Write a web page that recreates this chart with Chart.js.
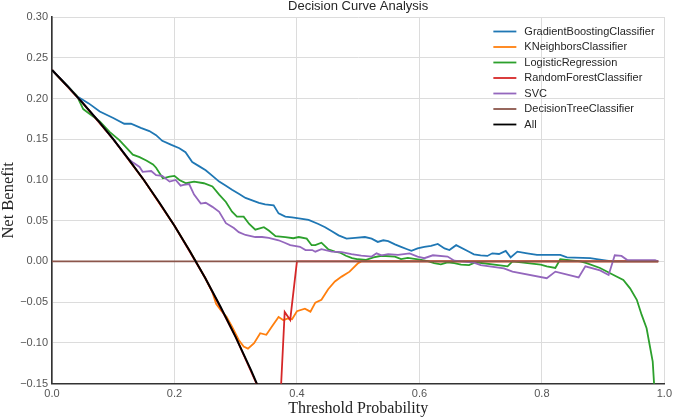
<!DOCTYPE html>
<html lang="en">
<head>
<meta charset="UTF-8">
<title>Decision Curve Analysis</title>
<style>
  body { margin: 0; padding: 0; background: #fff; }
  canvas { display: block; }
</style>
</head>
<body>
<canvas id="dca" width="676" height="418"></canvas>

<script src="https://cdn.jsdelivr.net/npm/chart.js"></script>
<script>
// model names, in legend order
const models = ['GradientBoostingClassifier', 'KNeighborsClassifier', 'LogisticRegression',
                'RandomForestClassifier', 'SVC', 'DecisionTreeClassifier', 'All'];
const colors = ['#1f77b4', '#ff7f0e', '#2ca02c', '#d62728', '#9467bd', '#8c564b', '#000000'];

// threshold / net benefit pairs
const gbT = [0, 0.025, 0.04, 0.06, 0.078, 0.1, 0.118, 0.129, 0.145, 0.159, 0.17, 0.18, 0.195, 0.208, 0.218,
  0.229, 0.24, 0.251, 0.262, 0.273, 0.284, 0.294, 0.305, 0.316, 0.327, 0.338, 0.348, 0.362, 0.37, 0.381,
  0.392, 0.403, 0.419, 0.435, 0.446, 0.457, 0.468, 0.481, 0.495, 0.511, 0.522, 0.532, 0.541, 0.549, 0.56,
  0.57, 0.58, 0.587, 0.597, 0.608, 0.619, 0.63, 0.641, 0.649, 0.66, 0.681, 0.689, 0.70, 0.711, 0.719,
  0.73, 0.741, 0.749, 0.76, 0.776, 0.792, 0.83, 0.841, 0.879, 0.892, 0.906, 0.915, 0.99];
const gbNB = [0.235, 0.2154, 0.203, 0.194, 0.184, 0.176, 0.169, 0.169, 0.164, 0.160, 0.155, 0.148, 0.143, 0.139, 0.134,
  0.122, 0.117, 0.112, 0.105, 0.098, 0.093, 0.088, 0.083, 0.078, 0.075, 0.072, 0.070, 0.069, 0.059, 0.055,
  0.054, 0.053, 0.051, 0.046, 0.042, 0.037, 0.032, 0.028, 0.029, 0.030, 0.028, 0.024, 0.026, 0.025, 0.021,
  0.018, 0.015, 0.013, 0.016, 0.018, 0.019, 0.0215, 0.016, 0.014, 0.020, 0.012, 0.0088, 0.0075, 0.0068, 0.010,
  0.0092, 0.0129, 0.005, 0.012, 0.010, 0.008, 0.008, 0.005, 0.004, 0.0027, 0.001, 0, 0];

const knT = [0, 0.05, 0.1, 0.15, 0.2, 0.225, 0.25, 0.262, 0.268, 0.276, 0.285, 0.294, 0.305, 0.313, 0.32,
  0.33, 0.34, 0.35, 0.36, 0.37, 0.378, 0.385, 0.392, 0.40, 0.413, 0.422, 0.43, 0.44, 0.451, 0.462,
  0.473, 0.486, 0.50, 0.505, 0.99];
const knNB = [0.235, 0.1947, 0.150, 0.100, 0.0438, 0.0129, -0.020, -0.038, -0.052, -0.060, -0.068, -0.080, -0.0963, -0.1045, -0.107,
  -0.1003, -0.088, -0.090, -0.079, -0.068, -0.072, -0.070, -0.071, -0.061, -0.058, -0.0616, -0.0505, -0.047, -0.034, -0.0245,
  -0.0186, -0.0125, -0.002, 0, 0];

const lrT = [0, 0.025, 0.04, 0.051, 0.065, 0.078, 0.094, 0.11, 0.121, 0.132, 0.143, 0.154, 0.165, 0.17, 0.181,
  0.192, 0.2, 0.208, 0.219, 0.232, 0.248, 0.262, 0.273, 0.284, 0.294, 0.302, 0.313, 0.322, 0.332, 0.346,
  0.354, 0.365, 0.381, 0.394, 0.403, 0.416, 0.424, 0.43, 0.44, 0.451, 0.462, 0.47, 0.48, 0.49, 0.50,
  0.513, 0.525, 0.538, 0.56, 0.57, 0.581, 0.603, 0.615, 0.624, 0.635, 0.646, 0.657, 0.668, 0.681, 0.692,
  0.744, 0.752, 0.798, 0.808, 0.822, 0.83, 0.863, 0.873, 0.895, 0.917, 0.933, 0.944, 0.955, 0.963, 0.971,
  0.976, 0.981, 0.983, 0.986];
const lrNB = [0.235, 0.2154, 0.204, 0.187, 0.179, 0.172, 0.159, 0.149, 0.140, 0.131, 0.128, 0.124, 0.119, 0.115, 0.102,
  0.104, 0.105, 0.100, 0.096, 0.098, 0.096, 0.092, 0.082, 0.073, 0.061, 0.055, 0.055, 0.046, 0.039, 0.042,
  0.038, 0.031, 0.030, 0.0285, 0.030, 0.028, 0.020, 0.020, 0.023, 0.015, 0.012, 0.011, 0.007, 0.004, 0.0027,
  0.002, 0.005, 0.007, 0.006, 0.003, 0.0045, 0.002, 0.0, -0.002, -0.0035, -0.001, -0.002, -0.004, -0.0045, -0.001,
  -0.006, 0.0, -0.004, -0.006, -0.008, 0.0027, 0.0, -0.002, -0.008, -0.0166, -0.0227, -0.033, -0.047, -0.0656, -0.082,
  -0.1025, -0.123, -0.1475, -0.18];

const rfT = [0, 0.05, 0.1, 0.15, 0.2, 0.25, 0.3, 0.35, 0.37, 0.38, 0.389, 0.40, 0.99];
const rfNB = [0.235, 0.1947, 0.150, 0.100, 0.0438, -0.020, -0.0929, -0.1769, -0.2143, -0.062, -0.0718, 0, 0];

const svT = [0, 0.025, 0.05, 0.075, 0.1, 0.125, 0.133, 0.143, 0.148, 0.162, 0.17, 0.18, 0.192, 0.202, 0.21,
  0.215, 0.224, 0.232, 0.243, 0.251, 0.262, 0.273, 0.284, 0.297, 0.305, 0.316, 0.332, 0.343, 0.354, 0.37,
  0.38, 0.389, 0.405, 0.414, 0.425, 0.43, 0.44, 0.457, 0.473, 0.489, 0.505, 0.522, 0.53, 0.538, 0.549,
  0.565, 0.584, 0.597, 0.608, 0.622, 0.646, 0.657, 0.689, 0.70, 0.738, 0.752, 0.808, 0.822, 0.86, 0.871,
  0.895, 0.909, 0.919, 0.93, 0.94, 0.985, 0.99];
const svNB = [0.235, 0.2154, 0.1947, 0.1730, 0.150, 0.1257, 0.121, 0.116, 0.110, 0.111, 0.106, 0.105, 0.098, 0.100, 0.093,
  0.094, 0.095, 0.082, 0.071, 0.072, 0.067, 0.061, 0.047, 0.041, 0.036, 0.0325, 0.030, 0.030, 0.029, 0.026,
  0.023, 0.020, 0.018, 0.014, 0.014, 0.012, 0.015, 0.012, 0.0115, 0.009, 0.0072, 0.006, 0.010, 0.0075, 0.009,
  0.008, 0.010, 0.006, 0.004, 0.0076, 0.006, 0.001, -0.0015, -0.0045, -0.0084, -0.0125, -0.0206, -0.0125, -0.0195, -0.006,
  -0.011, -0.0166, 0.0076, 0.0068, 0.0015, 0.0015, 0];

const dtT = [0, 0.99];
const dtNB = [0, 0];

const allT = [0, 0.025, 0.05, 0.075, 0.1, 0.125, 0.15, 0.175, 0.2, 0.225, 0.25, 0.275, 0.3, 0.325, 0.35, 0.375];
const allNB = [0.235, 0.2154, 0.1947, 0.1730, 0.150, 0.1257, 0.100, 0.0727, 0.0438, 0.0129, -0.020, -0.0552, -0.0929, -0.1333, -0.1769, -0.224];

// axis ticks
const xTicks = [0, 0.2, 0.4, 0.6, 0.8, 1.0];
const yTicks = [-0.15, -0.10, -0.05, 0, 0.05, 0.10, 0.15, 0.20, 0.25, 0.30];

const series = [[gbT, gbNB], [knT, knNB], [lrT, lrNB], [rfT, rfNB], [svT, svNB], [dtT, dtNB], [allT, allNB]];

const datasets = series.map(([ts, nb], i) => ({
    label: models[i],
    data: ts.map((t, j) => ({ x: t, y: nb[j] })),
    borderColor: colors[i],
    backgroundColor: colors[i],
    borderWidth: i === 6 ? 2 : 1.8,
    pointRadius: 0,
    tension: 0,
    fill: false,
    order: series.length - 1 - i   // later series drawn on top, like matplotlib
}));

// legend drawn inside the plot, top right, no frame
const plotLegend = {
    id: 'plotLegend',
    afterDatasetsDraw(chart) {
        const { ctx, chartArea } = chart;
        const x0 = chartArea.right - 171;
        ctx.save();
        ctx.font = '11px "Liberation Sans", Arial, sans-serif';
        ctx.textBaseline = 'middle';
        chart.data.datasets.forEach((ds, i) => {
            const y = chartArea.top + 14.5 + i * 15.5;
            ctx.strokeStyle = ds.borderColor;
            ctx.lineWidth = 1.8;
            ctx.beginPath();
            ctx.moveTo(x0, y);
            ctx.lineTo(x0 + 23, y);
            ctx.stroke();
            ctx.fillStyle = '#262626';
            ctx.fillText(ds.label, x0 + 31, y);
        });
        ctx.restore();
    }
};

Chart.defaults.font.family = '"Liberation Sans", Arial, sans-serif';

new Chart(document.getElementById('dca'), {
    type: 'line',
    data: { datasets: datasets },
    options: {
        responsive: false,
        animation: false,
        layout: { padding: { left: 0, right: 8, top: 0, bottom: 0 } },
        plugins: {
            legend: { display: false },
            tooltip: { enabled: false },
            title: {
                display: true,
                text: 'Decision Curve Analysis',
                fullSize: false,
                color: '#262626',
                font: { size: 13, weight: 'normal', lineHeight: 1 },
                padding: { top: 0, bottom: 4 }
            }
        },
        scales: {
            x: {
                type: 'linear',
                min: 0,
                max: 1,
                afterBuildTicks: s => { s.ticks = xTicks.map(v => ({ value: v })); },
                ticks: {
                    callback: v => v.toFixed(1),
                    color: '#555',
                    font: { size: 11 },
                    padding: 4,
                    maxRotation: 0
                },
                grid: { color: '#dcdcdc', lineWidth: 1, drawTicks: false },
                border: { color: '#333', width: 1.6 },
                title: {
                    display: true,
                    text: 'Threshold Probability',
                    color: '#222',
                    font: { family: '"Liberation Serif", "Times New Roman", serif', size: 16, lineHeight: 1.2 },
                    padding: 0
                },
                afterFit: s => { s.height = 34.3; }
            },
            y: {
                min: -0.15,
                max: 0.30,
                afterBuildTicks: s => { s.ticks = yTicks.map(v => ({ value: v })); },
                ticks: {
                    callback: v => (v < 0 ? '\u2212' : '') + Math.abs(v).toFixed(2),
                    color: '#555',
                    font: { size: 11 },
                    padding: 4
                },
                grid: { color: '#dcdcdc', lineWidth: 1, drawTicks: false },
                border: { color: '#333', width: 1.6 },
                title: {
                    display: true,
                    text: 'Net Benefit',
                    color: '#222',
                    font: { family: '"Liberation Serif", "Times New Roman", serif', size: 16.5, lineHeight: 1 },
                    padding: 0
                },
                afterFit: s => { s.width = 52; }
            }
        }
    },
    plugins: [plotLegend]
});
</script>
</body>
</html>
